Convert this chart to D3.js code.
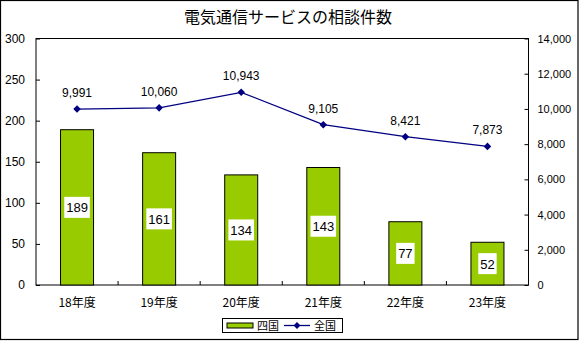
<!DOCTYPE html>
<html><head><meta charset="utf-8">
<script src="https://cdn.jsdelivr.net/npm/d3@7"></script>
<style>body{margin:0;background:#fff}svg{display:block}</style>
</head><body>
<svg id="c" width="579" height="342"></svg>
<script>
const title = "電気通信サービスの相談件数";
const categories = ["18年度","19年度","20年度","21年度","22年度","23年度"];
const shikoku = [189,161,134,143,77,52];
const zenkoku = [9991,10060,10943,9105,8421,7873];
const leftTicks = [0,50,100,150,200,250,300];
const rightTicks = [0,2000,4000,6000,8000,10000,12000,14000];
const seriesNames = ["四国","全国"];

const svg = d3.select("#c");
const numFont = "Arial, 'Liberation Sans', sans-serif";
const jpFont = "'Noto Sans CJK JP', sans-serif";
const m = {l:36, r:528.5, t:38.5, b:285};

svg.append("rect").attr("x",0.5).attr("y",0.5).attr("width",577.5).attr("height",339)
  .attr("fill","#fff").attr("stroke","#000").attr("stroke-width",1.2);

svg.append("text").attr("x",288).attr("y",23).attr("text-anchor","middle")
  .attr("font-family",jpFont).attr("font-size",16).text(title);

const x = d3.scaleBand().domain(categories).range([m.l,m.r]);
const yL = d3.scaleLinear().domain([0,300]).range([m.b,m.t]);
const yR = d3.scaleLinear().domain([0,14000]).range([m.b,m.t]);

svg.append("rect").attr("x",m.l).attr("y",m.t).attr("width",m.r-m.l).attr("height",m.b-m.t)
  .attr("fill","none").attr("stroke","#000").attr("stroke-width",1);

// left axis
const ga = svg.append("g").attr("transform",`translate(${m.l},0)`)
  .call(d3.axisLeft(yL).tickValues(leftTicks).tickSize(-4).tickPadding(11));
ga.select(".domain").remove();
ga.selectAll("text").attr("font-family",numFont).attr("font-size",12).attr("fill","#000");
ga.selectAll("line").attr("stroke","#000");

// right axis
const gr = svg.append("g").attr("transform",`translate(${m.r},0)`)
  .call(d3.axisRight(yR).tickValues(rightTicks).tickFormat(d3.format(",")).tickSize(-4).tickPadding(9));
gr.select(".domain").remove();
gr.selectAll("text").attr("font-family",numFont).attr("font-size",11).attr("fill","#000");
gr.selectAll("line").attr("stroke","#000");

// bottom ticks at band boundaries
svg.append("g").selectAll("line").data(categories.slice(1)).join("line")
  .attr("x1",d=>x(d)).attr("x2",d=>x(d)).attr("y1",m.b).attr("y2",m.b-4).attr("stroke","#000");
svg.append("g").selectAll("text").data(categories).join("text")
  .attr("x",d=>x(d)+x.bandwidth()/2).attr("y",307).attr("text-anchor","middle")
  .attr("font-family",jpFont).attr("font-size",12).text(d=>d);

// bars
const bw = 33;
svg.append("g").selectAll("rect").data(shikoku).join("rect")
  .attr("x",(d,i)=>x(categories[i])+x.bandwidth()/2-bw/2)
  .attr("y",d=>yL(d)).attr("width",bw).attr("height",d=>yL(0)-yL(d))
  .attr("fill","#99CC00").attr("stroke","#000").attr("stroke-width",1);

// bar labels
const bl = svg.append("g").selectAll("g").data(shikoku).join("g")
  .attr("transform",(d,i)=>`translate(${x(categories[i])+x.bandwidth()/2},${(yL(d)+yL(0))/2})`);
bl.append("rect").attr("x",d=>-(String(d).length*7.2+4)/2).attr("y",-10.5)
  .attr("width",d=>String(d).length*7.2+4).attr("height",21).attr("fill","#fff");
bl.append("text").attr("text-anchor","middle").attr("y",5)
  .attr("font-family",numFont).attr("font-size",13).text(d=>d);

// line
const line = d3.line().x((d,i)=>x(categories[i])+x.bandwidth()/2).y(d=>yR(d));
svg.append("path").datum(zenkoku).attr("d",line).attr("fill","none")
  .attr("stroke","#000080").attr("stroke-width",1.3);
svg.append("g").selectAll("path").data(zenkoku).join("path")
  .attr("d",d3.symbol(d3.symbolDiamond2,36))
  .attr("transform",(d,i)=>`translate(${x(categories[i])+x.bandwidth()/2},${yR(d)})`)
  .attr("fill","#000080");
svg.append("g").selectAll("text").data(zenkoku).join("text")
  .attr("x",(d,i)=>x(categories[i])+x.bandwidth()/2).attr("y",d=>yR(d)-12)
  .attr("text-anchor","middle").attr("font-family",numFont).attr("font-size",12)
  .text(d=>d3.format(",")(d));

// legend
const lg = svg.append("g");
lg.append("rect").attr("x",222.5).attr("y",318.5).attr("width",120).attr("height",14)
  .attr("fill","#fff").attr("stroke","#000");
lg.append("rect").attr("x",227).attr("y",323).attr("width",26).attr("height",5)
  .attr("fill","#99CC00").attr("stroke","#000").attr("stroke-width",1);
lg.append("text").attr("x",257).attr("y",330).attr("font-family",jpFont).attr("font-size",11).text(seriesNames[0]);
lg.append("line").attr("x1",284).attr("x2",310).attr("y1",325.5).attr("y2",325.5)
  .attr("stroke","#000080").attr("stroke-width",1.3);
lg.append("path").attr("d",d3.symbol(d3.symbolDiamond2,30)).attr("transform","translate(297,325.5)").attr("fill","#000080");
lg.append("text").attr("x",314).attr("y",330).attr("font-family",jpFont).attr("font-size",11).text(seriesNames[1]);
</script>
</body></html>
